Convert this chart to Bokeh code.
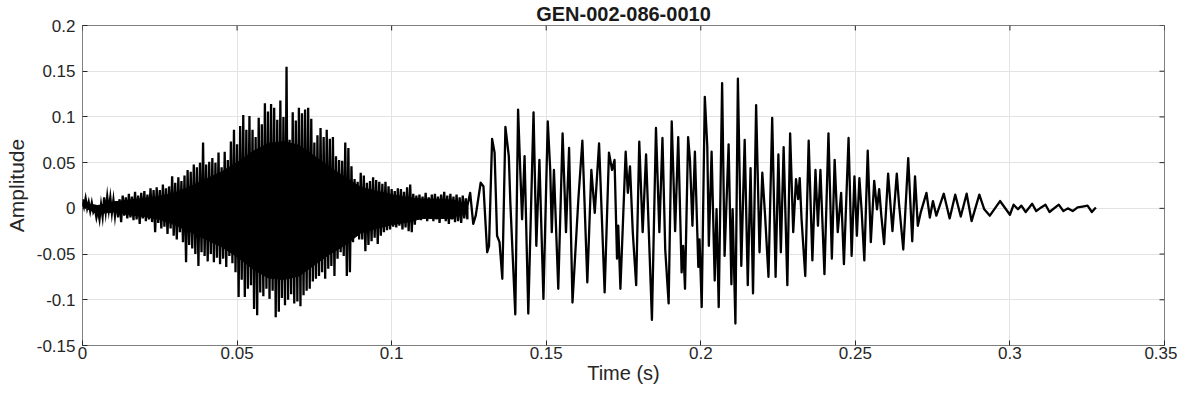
import numpy as np
from bokeh.plotting import figure
from bokeh.models import FixedTicker, Range1d
from bokeh.embed import file_html
from bokeh.resources import INLINE

# ---------------- text & ticks ----------------
title_text = "GEN-002-086-0010"
x_label = "Time (s)"
y_label = "Amplitude"
x_ticks = [0, 0.05, 0.1, 0.15, 0.2, 0.25, 0.3, 0.35]
x_tick_labels = ["0", "0.05", "0.1", "0.15", "0.2", "0.25", "0.3", "0.35"]
y_ticks = [-0.15, -0.1, -0.05, 0, 0.05, 0.1, 0.15, 0.2]
y_tick_labels = ["-0.15", "-0.1", "-0.05", "0", "0.05", "0.1", "0.15", "0.2"]

# ---------------- data ----------------
# dense (high-frequency) section: per 1 ms column, local max / local min
dense_dt = 0.001
dense_hi = [0.010, 0.011, 0.007, 0.006, 0.000, -0.002, 0.004, 0.012, 0.013, 0.012,
            0.009, 0.008, 0.010, 0.014, 0.012, 0.016, 0.013, 0.018, 0.014, 0.017,
            0.019, 0.015, 0.022, 0.020, 0.023, 0.020, 0.026, 0.022, 0.024, 0.035,
            0.028, 0.034, 0.030, 0.036, 0.042, 0.040, 0.048, 0.045, 0.050, 0.072,
            0.048, 0.051, 0.055, 0.050, 0.061, 0.045, 0.062, 0.053, 0.073, 0.086,
            0.070, 0.090, 0.102, 0.086, 0.101, 0.086, 0.078, 0.099, 0.092, 0.115,
            0.106, 0.114, 0.110, 0.097, 0.118, 0.100, 0.155, 0.075, 0.105, 0.096,
            0.110, 0.104, 0.108, 0.110, 0.098, 0.072, 0.080, 0.088, 0.078, 0.086,
            0.076, 0.078, 0.057, 0.053, 0.052, 0.072, 0.066, 0.046, 0.032, 0.029,
            0.039, 0.036, 0.028, 0.030, 0.034, 0.031, 0.029, 0.027, 0.029, 0.024,
            0.021, 0.019, 0.022, 0.021, 0.018, 0.023, 0.026, 0.016, 0.014, 0.015,
            0.013, 0.017, 0.012, 0.015, 0.016, 0.013, 0.015, 0.018, 0.014, 0.016,
            0.013, 0.015, 0.012, 0.014, 0.011]
dense_lo = [0.002, 0.000, -0.003, -0.004, -0.010, -0.012, -0.009, -0.004, -0.002, -0.005,
            -0.008, -0.010, -0.015, -0.008, -0.011, -0.010, -0.013, -0.012, -0.017, -0.011,
            -0.014, -0.012, -0.015, -0.026, -0.016, -0.022, -0.020, -0.028, -0.022, -0.030,
            -0.034, -0.026, -0.037, -0.059, -0.040, -0.044, -0.050, -0.063, -0.048, -0.052,
            -0.058, -0.050, -0.059, -0.054, -0.061, -0.055, -0.064, -0.052, -0.060, -0.070,
            -0.097, -0.078, -0.097, -0.088, -0.084, -0.110, -0.117, -0.092, -0.096, -0.088,
            -0.099, -0.090, -0.119, -0.113, -0.098, -0.106, -0.100, -0.094, -0.104, -0.102,
            -0.107, -0.095, -0.090, -0.088, -0.080, -0.077, -0.074, -0.070, -0.077, -0.066,
            -0.063, -0.074, -0.055, -0.048, -0.052, -0.074, -0.070, -0.037, -0.030, -0.034,
            -0.034, -0.047, -0.040, -0.036, -0.032, -0.039, -0.030, -0.026, -0.024, -0.023,
            -0.020, -0.021, -0.019, -0.023, -0.021, -0.025, -0.026, -0.018, -0.012, -0.013,
            -0.011, -0.014, -0.010, -0.014, -0.012, -0.016, -0.011, -0.014, -0.017, -0.012,
            -0.015, -0.014, -0.016, -0.011, -0.012]

# solid core of the dense section (where samples overlap into black), every 5 ms
core_t = [0.000, 0.005, 0.010, 0.015, 0.020, 0.025, 0.030, 0.035, 0.040, 0.045,
          0.050, 0.055, 0.060, 0.065, 0.070, 0.075, 0.080, 0.085, 0.090, 0.095,
          0.100, 0.105, 0.110, 0.115, 0.120, 0.1245]
core_hi = [0.006, 0.003, 0.007, 0.009, 0.011, 0.013, 0.017, 0.024, 0.032, 0.040,
           0.050, 0.062, 0.071, 0.073, 0.069, 0.057, 0.045, 0.034, 0.023, 0.019,
           0.015, 0.012, 0.010, 0.010, 0.009, 0.003]
core_lo = [0.002, -0.006, -0.004, -0.007, -0.009, -0.012, -0.018, -0.026, -0.034, -0.042,
           -0.053, -0.066, -0.076, -0.078, -0.074, -0.062, -0.050, -0.040, -0.027, -0.022,
           -0.018, -0.015, -0.011, -0.011, -0.011, 0.002]

# low-frequency section: successive turning points
t_smooth = [0.1245, 0.1254, 0.1264, 0.1272, 0.1288, 0.1297, 0.1309, 0.1315, 0.1325, 0.1333,
            0.1341, 0.1349, 0.1358, 0.1368, 0.1379, 0.1384, 0.1400, 0.1409, 0.1416, 0.1422,
            0.1430, 0.1442, 0.1459, 0.1468, 0.1478, 0.1491, 0.1505, 0.1513, 0.1518, 0.1525,
            0.1539, 0.1553, 0.1564, 0.1574, 0.1585, 0.1604, 0.1617, 0.1633, 0.1646, 0.1657,
            0.1671, 0.1689, 0.1703, 0.1713, 0.1721, 0.1729, 0.1733, 0.1740, 0.1757, 0.1764,
            0.1771, 0.1780, 0.1791, 0.1801, 0.1812, 0.1823, 0.1842, 0.1855, 0.1866, 0.1876,
            0.1885, 0.1896, 0.1906, 0.1917, 0.1927, 0.1938, 0.1943, 0.1949, 0.1959, 0.1965,
            0.1973, 0.1981, 0.1992, 0.1996, 0.2003, 0.2013, 0.2021, 0.2026, 0.2035, 0.2045,
            0.2051, 0.2058, 0.2069, 0.2077, 0.2090, 0.2099, 0.2103, 0.2112, 0.2120, 0.2131,
            0.2142, 0.2152, 0.2161, 0.2169, 0.2179, 0.2190, 0.2199, 0.2208, 0.2219, 0.2231,
            0.2242, 0.2251, 0.2259, 0.2268, 0.2280, 0.2289, 0.2299, 0.2308, 0.2315, 0.2320,
            0.2326, 0.2338, 0.2349, 0.2361, 0.2371, 0.2379, 0.2387, 0.2400, 0.2413, 0.2424,
            0.2433, 0.2443, 0.2454, 0.2463, 0.2478, 0.2488, 0.2497, 0.2505, 0.2513, 0.2520,
            0.2529, 0.2540, 0.2550, 0.2561, 0.2570, 0.2577, 0.2584, 0.2593, 0.2606, 0.2620,
            0.2634, 0.2641, 0.2655, 0.2671, 0.2684, 0.2693, 0.2702, 0.2711, 0.2730, 0.2741,
            0.2751, 0.2762, 0.2786, 0.2805, 0.2823, 0.2841, 0.2860, 0.2876, 0.2901, 0.2917,
            0.2935, 0.2968, 0.3000, 0.3012, 0.3026, 0.3037, 0.3051, 0.3072, 0.3085, 0.3101,
            0.3115, 0.3128, 0.3158, 0.3173, 0.3187, 0.3203, 0.3219, 0.3235, 0.3251, 0.3265,
            0.3278]
v_smooth = [0.0025, 0.017, -0.017, -0.008, 0.028, 0.024, -0.048, -0.041, 0.076, 0.061,
            -0.030, -0.037, -0.077, 0.089, 0.057, 0.006, -0.116, 0.108, 0.042, -0.012,
            0.057, -0.115, 0.105, -0.041, 0.053, -0.099, 0.095, 0.042, -0.026, 0.042,
            -0.088, 0.082, -0.026, 0.066, -0.103, 0.010, 0.074, -0.081, 0.042, -0.005,
            0.071, -0.092, 0.061, 0.042, 0.053, -0.055, -0.019, -0.088, 0.062, 0.017,
            0.046, -0.026, -0.084, 0.073, -0.026, 0.059, -0.122, 0.088, -0.026, 0.077,
            -0.045, -0.104, 0.095, -0.025, 0.078, -0.070, -0.041, -0.088, 0.078, 0.053,
            -0.019, 0.062, -0.064, -0.034, -0.108, 0.122, 0.068, -0.041, 0.062, -0.079,
            -0.001, -0.108, 0.137, -0.052, 0.070, -0.083, -0.001, -0.126, 0.142, -0.063,
            0.075, -0.084, 0.044, -0.093, 0.113, -0.048, 0.039, -0.008, -0.075, 0.099,
            -0.075, 0.059, -0.048, 0.067, -0.084, 0.082, -0.026, 0.032, 0.010, 0.033,
            -0.012, -0.074, 0.074, -0.057, 0.042, -0.019, 0.042, -0.072, 0.082, -0.055,
            0.053, -0.026, 0.017, -0.061, 0.077, -0.052, 0.035, -0.030, 0.033, -0.001,
            -0.057, 0.063, -0.037, 0.030, -0.001, 0.021, -0.008, -0.039, 0.038, -0.025,
            0.038, 0.006, -0.045, 0.055, -0.036, 0.035, -0.019, -0.005, 0.017, -0.010,
            0.008, -0.008, 0.016, -0.011, 0.015, -0.009, 0.016, -0.014, 0.015, -0.001,
            -0.008, 0.008, -0.007, 0.004, -0.001, 0.003, -0.004, 0.005, -0.003, 0.001,
            0.004, -0.004, 0.004, -0.003, 0.000, -0.003, 0.001, 0.002, 0.003, -0.004,
            0.001]

# ---------------- assemble the dense trace ----------------
td = np.arange(len(dense_hi)) * dense_dt
xd = np.empty(2 * len(td) + 1)
yd = np.empty(2 * len(td) + 1)
xd[0:-1:2] = td
xd[1:-1:2] = td + dense_dt / 2
yd[0:-1:2] = dense_hi
yd[1:-1:2] = dense_lo
xd[-1] = t_smooth[0]
yd[-1] = v_smooth[0]

core_x = np.concatenate([core_t, core_t[::-1]])
core_y = np.concatenate([core_hi, core_lo[::-1]])

FONT = "Liberation Sans"
TXT = "#262626"

p = figure(width=1177, height=388,
           x_range=Range1d(x_ticks[0], x_ticks[-1]),
           y_range=Range1d(y_ticks[0], y_ticks[-1]),
           output_backend="svg", toolbar_location=None,
           min_border_left=82, min_border_right=13,
           min_border_top=25, min_border_bottom=43,
           background_fill_color="white", border_fill_color="white")

p.patch(core_x, core_y, fill_color="black", line_color="black", line_width=1)
p.line(xd, yd, line_color="black", line_width=2.3, line_join="miter")
p.line(t_smooth, v_smooth, line_color="black", line_width=2.3, line_join="round")

# inward tick marks on the top and right edges of the box
p.scatter(x=x_ticks, y=[y_ticks[-1]] * len(x_ticks), marker="dash",
          angle=np.pi / 2, size=10, line_color=TXT, line_width=1)
p.scatter(x=[x_ticks[-1]] * len(y_ticks), y=y_ticks, marker="dash",
          angle=0, size=10, line_color=TXT, line_width=1)

p.title.text = title_text
p.title.align = "center"
p.title.text_font = FONT
p.title.text_font_style = "bold"
p.title.text_font_size = "20px"
p.title.text_color = "#1a1a1a"
p.title.standoff = 1

p.outline_line_color = "#808080"
p.outline_line_width = 1

xa = p.xaxis[0]
ya = p.yaxis[0]
xa.ticker = FixedTicker(ticks=x_ticks)
ya.ticker = FixedTicker(ticks=y_ticks)
xa.major_label_overrides = {t: s for t, s in zip(x_ticks, x_tick_labels)}
ya.major_label_overrides = {t: s for t, s in zip(y_ticks, y_tick_labels)}
xa.axis_label = x_label
ya.axis_label = y_label

for ax in (xa, ya):
    ax.axis_line_color = None
    ax.major_tick_in = 5
    ax.major_tick_out = 0
    ax.major_tick_line_color = TXT
    ax.minor_tick_line_color = None
    ax.major_label_text_font = FONT
    ax.major_label_text_font_size = "17px"
    ax.major_label_text_color = TXT
    ax.axis_label_text_font = FONT
    ax.axis_label_text_font_style = "normal"
    ax.axis_label_text_color = TXT
xa.axis_label_text_font_size = "20px"
ya.axis_label_text_font_size = "21px"
xa.major_label_standoff = 1
xa.axis_label_standoff = 0
ya.major_label_standoff = 7
ya.axis_label_standoff = 6

p.xgrid.ticker = FixedTicker(ticks=x_ticks)
p.ygrid.ticker = FixedTicker(ticks=y_ticks)
p.xgrid.grid_line_color = "#e3e3e3"
p.ygrid.grid_line_color = "#e3e3e3"

open("out.html", "w").write(file_html(p, INLINE))
